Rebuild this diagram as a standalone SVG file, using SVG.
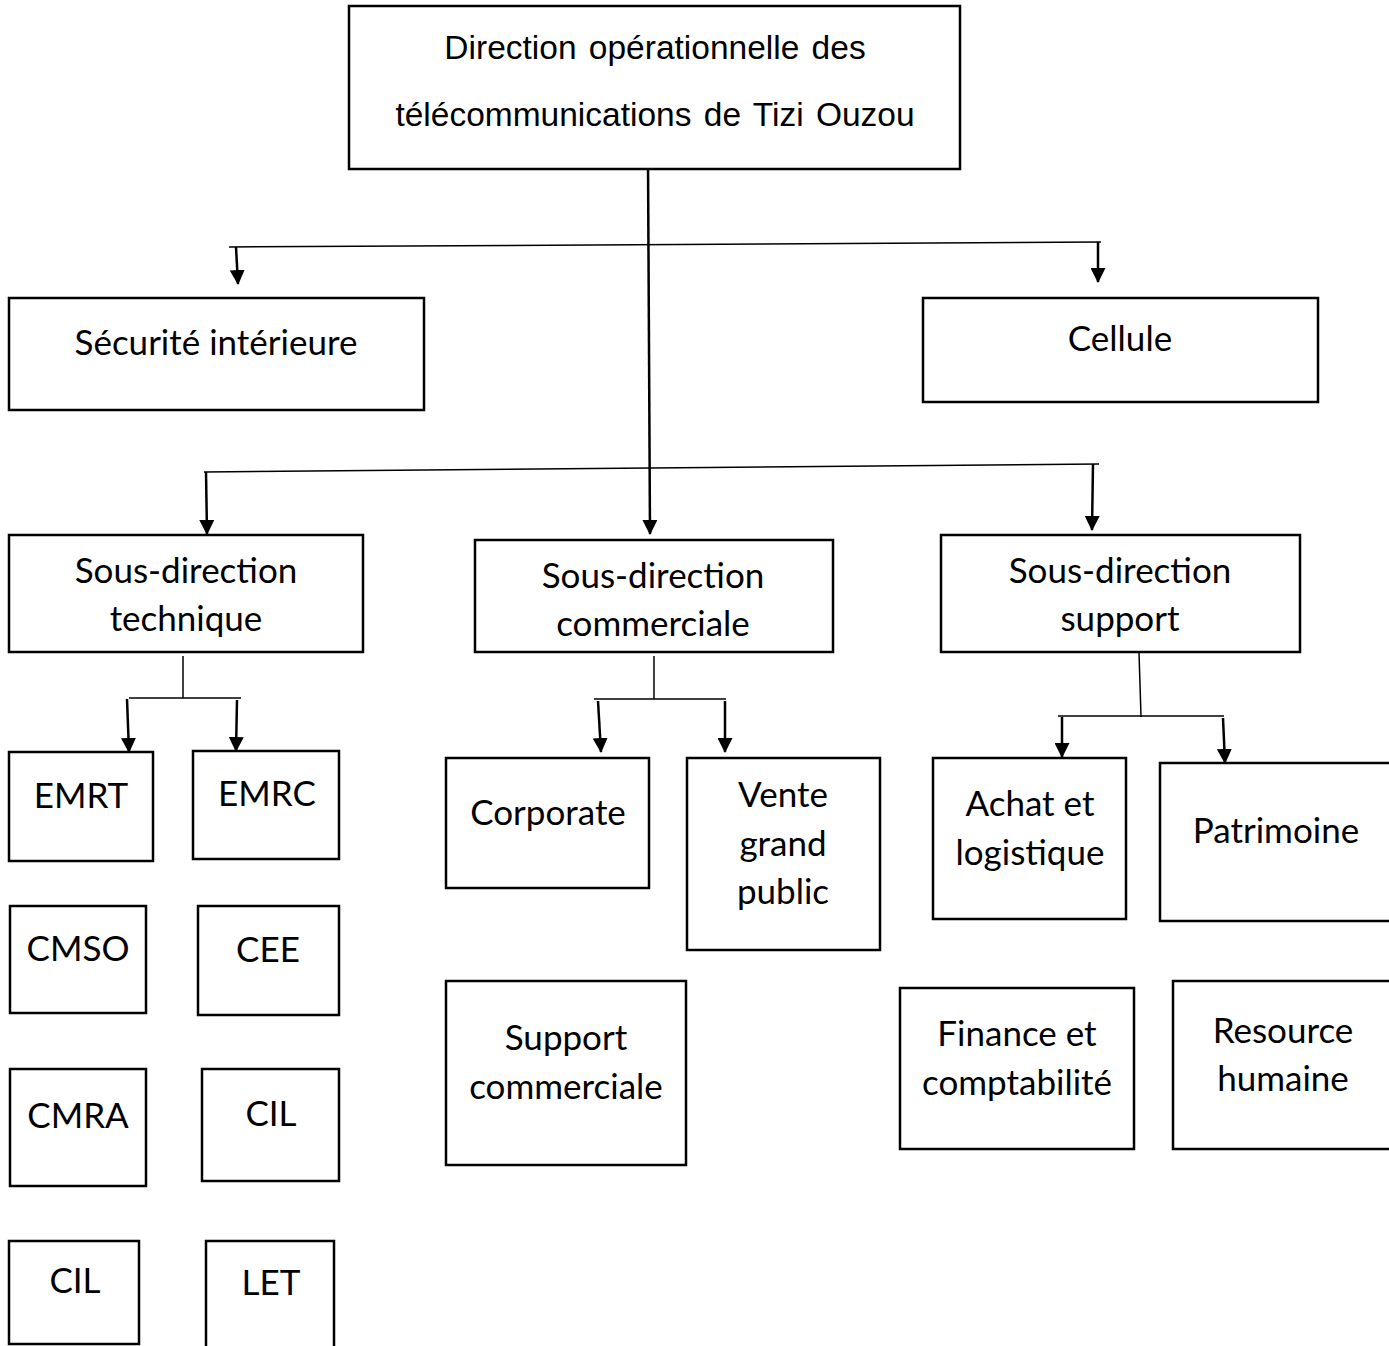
<svg xmlns="http://www.w3.org/2000/svg" width="1389" height="1346" viewBox="0 0 1389 1346">
<style>
.box{fill:#fff;stroke:#000;stroke-width:2.5}
.t{font-family:Lato,"Open Sans","Liberation Sans",sans-serif;font-size:35px;fill:#000;text-anchor:middle}
.a{font-family:"Liberation Sans",Arial,sans-serif;font-size:33.5px;fill:#000;text-anchor:middle;word-spacing:3px}
.thin{stroke:#000;stroke-width:1.5;fill:none}
.arr{stroke:#000;stroke-width:2.5;fill:none;marker-end:url(#ah)}
</style>
<defs>
<marker id="ah" markerUnits="userSpaceOnUse" markerWidth="15" markerHeight="15" viewBox="0 0 15 15" refX="14" refY="7.5" orient="auto">
<path d="M0,0 L15,7.5 L0,15 Z" fill="#000"/>
</marker>
</defs>
<rect width="1389" height="1346" fill="#fff"/>
<g id="connectors">
<line class="thin" x1="229" y1="247" x2="1101" y2="242"/>
<line class="thin" x1="204" y1="472" x2="1099" y2="464"/>
<line class="arr" x1="648" y1="160" x2="650" y2="534"/>
<line class="arr" x1="236" y1="247" x2="238" y2="284"/>
<line class="arr" x1="1098" y1="242" x2="1098" y2="282"/>
<line class="arr" x1="206" y1="472" x2="207" y2="534"/>
<line class="arr" x1="1093" y1="464" x2="1092" y2="530"/>
<line class="thin" x1="183" y1="656" x2="183" y2="698"/>
<line class="thin" x1="129" y1="698" x2="241" y2="698"/>
<line class="arr" x1="127" y1="699" x2="129" y2="752"/>
<line class="arr" x1="237" y1="700" x2="236" y2="751"/>
<line class="thin" x1="654" y1="656" x2="654" y2="699"/>
<line class="thin" x1="594" y1="699" x2="726" y2="699"/>
<line class="arr" x1="598" y1="701" x2="601" y2="752"/>
<line class="arr" x1="725" y1="701" x2="725" y2="752"/>
<line class="thin" x1="1139" y1="652" x2="1141" y2="717"/>
<line class="thin" x1="1058" y1="716" x2="1224" y2="716"/>
<line class="arr" x1="1062" y1="717" x2="1062" y2="757"/>
<line class="arr" x1="1223" y1="718" x2="1225" y2="763"/>
</g>
<g id="n-direction"><rect class="box" x="349" y="6" width="611" height="163"/>
<text class="a" x="655" y="59">Direction opérationnelle des</text>
<text class="a" x="655" y="126">télécommunications de Tizi Ouzou</text></g>
<g id="n-securite"><rect class="box" x="9" y="298" width="415" height="112"/>
<text class="t" x="216" y="355">Sécurité intérieure</text></g>
<g id="n-cellule"><rect class="box" x="923" y="298" width="395" height="104"/>
<text class="t" x="1120" y="351">Cellule</text></g>
<g id="n-sd-tech"><rect class="box" x="9" y="535" width="354" height="117"/>
<text class="t" x="186" y="583">Sous-direction</text><text class="t" x="186" y="631">technique</text></g>
<g id="n-sd-com"><rect class="box" x="475" y="540" width="358" height="112"/>
<text class="t" x="653" y="588">Sous-direction</text><text class="t" x="653" y="636">commerciale</text></g>
<g id="n-sd-sup"><rect class="box" x="941" y="535" width="359" height="117"/>
<text class="t" x="1120" y="583">Sous-direction</text><text class="t" x="1120" y="631">support</text></g>
<g id="n-emrt"><rect class="box" x="9" y="752" width="144" height="109"/><text class="t" x="81" y="808">EMRT</text></g>
<g id="n-emrc"><rect class="box" x="193" y="751" width="146" height="108"/><text class="t" x="267" y="806">EMRC</text></g>
<g id="n-cmso"><rect class="box" x="10" y="906" width="136" height="107"/><text class="t" x="78" y="961">CMSO</text></g>
<g id="n-cee"><rect class="box" x="198" y="906" width="141" height="109"/><text class="t" x="268" y="962">CEE</text></g>
<g id="n-cmra"><rect class="box" x="10" y="1069" width="136" height="117"/><text class="t" x="78" y="1128">CMRA</text></g>
<g id="n-cil1"><rect class="box" x="202" y="1069" width="137" height="112"/><text class="t" x="271" y="1126">CIL</text></g>
<g id="n-cil2"><rect class="box" x="9" y="1241" width="130" height="103"/><text class="t" x="75" y="1293">CIL</text></g>
<g id="n-let"><rect class="box" x="206" y="1241" width="128" height="120"/><text class="t" x="271" y="1295">LET</text></g>
<g id="n-corporate"><rect class="box" x="446" y="758" width="203" height="130"/><text class="t" x="548" y="825">Corporate</text></g>
<g id="n-vente"><rect class="box" x="687" y="758" width="193" height="192"/>
<text class="t" x="783" y="807">Vente</text><text class="t" x="783" y="856">grand</text><text class="t" x="783" y="904">public</text></g>
<g id="n-support-com"><rect class="box" x="446" y="981" width="240" height="184"/>
<text class="t" x="566" y="1050">Support</text><text class="t" x="566" y="1099">commerciale</text></g>
<g id="n-achat"><rect class="box" x="933" y="758" width="193" height="161"/>
<text class="t" x="1030" y="816">Achat et</text><text class="t" x="1030" y="865">logistique</text></g>
<g id="n-patrimoine"><rect class="box" x="1160" y="763" width="240" height="158"/><text class="t" x="1276" y="843">Patrimoine</text></g>
<g id="n-finance"><rect class="box" x="900" y="988" width="234" height="161"/>
<text class="t" x="1017" y="1046">Finance et</text><text class="t" x="1017" y="1095">comptabilité</text></g>
<g id="n-rh"><rect class="box" x="1173" y="981" width="225" height="168"/>
<text class="t" x="1283" y="1043">Resource</text><text class="t" x="1283" y="1091">humaine</text></g>
</svg>
